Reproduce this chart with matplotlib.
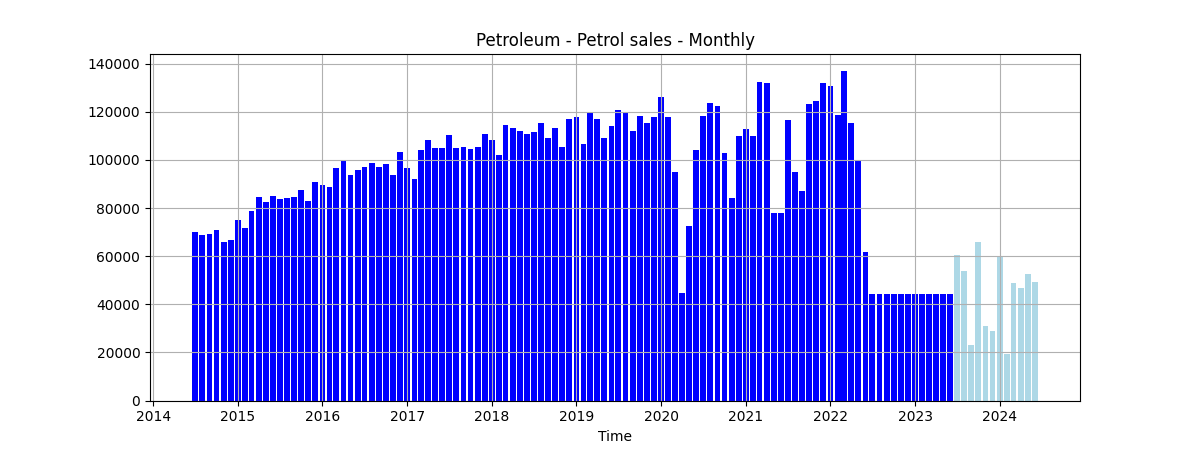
import matplotlib
matplotlib.use("Agg")
import matplotlib.pyplot as plt
import pandas as pd

# monthly petrol sales, Jul 2014 - Jun 2023 (actuals)
sales = [
    70000, 68700, 69200, 70800, 65800, 66700,
    75000, 71700, 78700, 84500, 82400, 84900, 83600, 84100, 84500, 87400, 82800, 90700,
    89500, 88600, 96600, 99500, 93600, 95700, 97000, 98600, 97000, 98200, 93600, 103200,
    96600, 92000, 104100, 108500, 104800, 104800, 110200, 104800, 105200, 104400, 105200, 111000,
    108100, 102000, 114400, 113500, 111900, 110600, 111500, 115200, 109000, 113500, 105200, 116900,
    117700, 106500, 119400, 116900, 109000, 114000, 120600, 119800, 111900, 118100, 115200, 117700,
    126000, 117700, 94900, 44700, 72500, 104100, 118100, 123500, 122300, 102800, 84100, 109800,
    112700, 109800, 132600, 132200, 77900, 77900, 116500, 94900, 87000, 123100, 124400, 131800,
    130900, 118500, 137200, 115200, 99500, 61700, 44260, 44260, 44260, 44260, 44260, 44260,
    44260, 44260, 44260, 44260, 44260, 44260,
]

# Jul 2023 - Jun 2024 (forecast)
forecast = [60400, 53800, 23100, 65800, 31000, 28900, 59600, 19400, 48800, 46800, 52600, 49300]

dates = pd.date_range("2014-07-01", periods=len(sales), freq="MS")
fc_dates = pd.date_range(dates[-1] + pd.DateOffset(months=1), periods=len(forecast), freq="MS")

fig, ax = plt.subplots(figsize=(12, 4.5), dpi=100)
ax.bar(dates, sales, width=25, color="blue")
ax.bar(fc_dates, forecast, width=25, color="lightblue")
ax.set_title("Petroleum - Petrol sales - Monthly")
ax.set_xlabel("Time")
ax.grid(True)
plt.savefig("out.png")
